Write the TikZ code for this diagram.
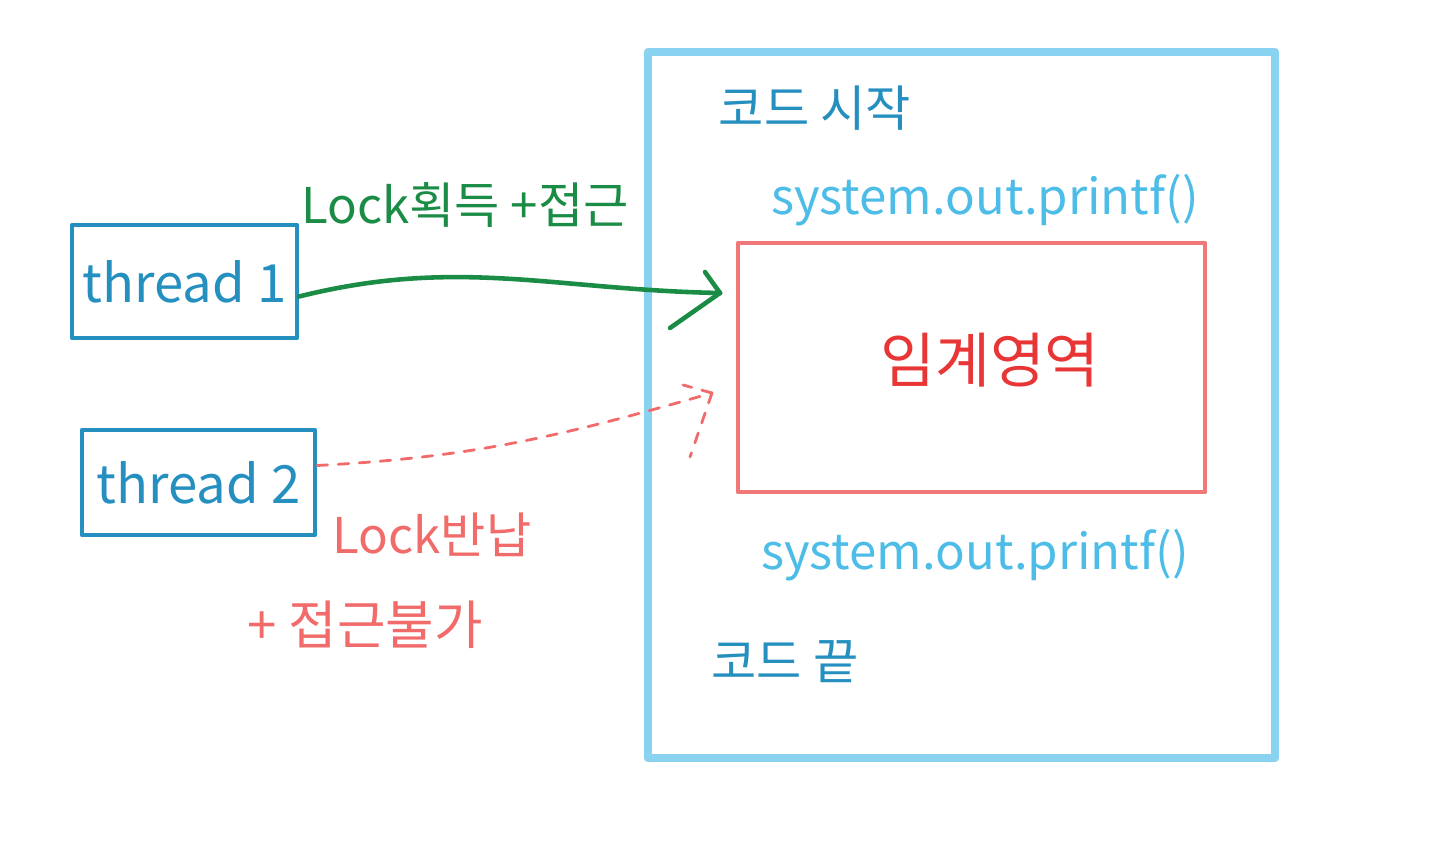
\documentclass[tikz,border=0pt]{standalone}
\usepackage{fontspec}
\setmainfont{Noto Sans CJK KR}
\usetikzlibrary{positioning, arrows.meta}

\definecolor{codeblue}{HTML}{8AD3F0}
\definecolor{darkblue}{HTML}{2590C0}
\definecolor{lightblue}{HTML}{4DBDE8}
\definecolor{critred}{HTML}{F07878}
\definecolor{textred}{HTML}{E83535}
\definecolor{lockgreen}{HTML}{1A8C45}
\definecolor{salmon}{HTML}{F26B6B}

\begin{document}
\begin{tikzpicture}[
    line cap=round,
    line join=round,
    threadbox/.style={draw=darkblue, line width=1.2pt, text=darkblue,
        font=\fontsize{15}{17}\selectfont, inner sep=0pt},
    codetext/.style={text=lightblue, font=\fontsize{14}{16}\selectfont},
    marktext/.style={text=darkblue, font=\fontsize{14}{16}\selectfont},
    getline/.style={draw=lockgreen, line width=1.3pt},
    backline/.style={draw=salmon, line width=0.8pt, dashed}
]
\useasboundingbox (0,0) rectangle (14.4,8.66);

% code block
\node[draw=codeblue, line width=2.4pt, minimum width=6.27cm, minimum height=7.06cm] (code) at (9.615,4.61) {};
\node[draw=critred, line width=1.2pt, minimum width=4.67cm, minimum height=2.49cm] (crit) at (9.715,4.985) {};

\node[marktext] (start) at (8.15,7.58) {코드 시작};
\node[codetext] (sys1) at (9.85,6.66) {system.out.printf()};
\node[text=textred, font=\fontsize{17}{19}\selectfont] (critlabel) at (9.9,5.06) {임계영역};
\node[codetext] (sys2) at (9.75,3.11) {system.out.printf()};
\node[marktext] (end) at (7.85,2.04) {코드 끝};

% threads
\node[threadbox, minimum width=2.25cm, minimum height=1.13cm] (t1) at (1.845,5.845) {thread 1};
\node[threadbox, minimum width=2.33cm, minimum height=1.05cm] (t2) at (1.985,3.835) {thread 2};

\coordinate (gettip) at (7.2,5.73);
\coordinate (backtip) at (7.12,4.73);

% lock taken
\draw[getline] ([yshift=-0.15cm]t1.east) to[out=14, in=179] (gettip);
\draw[getline] (gettip) -- ++(-0.15,0.21);
\draw[getline] (gettip) -- ++(-0.50,-0.35);

% lock given back
\draw[backline] ([yshift=0.17cm]t2.east) to[out=3, in=196] (backtip);
\draw[backline] (backtip) -- ++(-0.29,0.08);
\draw[backline] (backtip) -- ++(-0.22,-0.64);

\node[text=lockgreen, font=\fontsize{14}{16}\selectfont] (get) at (4.65,6.61) {Lock획득 +접근};
\node[text=salmon, font=\fontsize{14}{16}\selectfont] (back) at (4.32,3.31) {Lock반납};
\node[text=salmon, font=\fontsize{15}{17}\selectfont] (noaccess) at (3.65,2.41) {+ 접근불가};

\end{tikzpicture}
\end{document}
